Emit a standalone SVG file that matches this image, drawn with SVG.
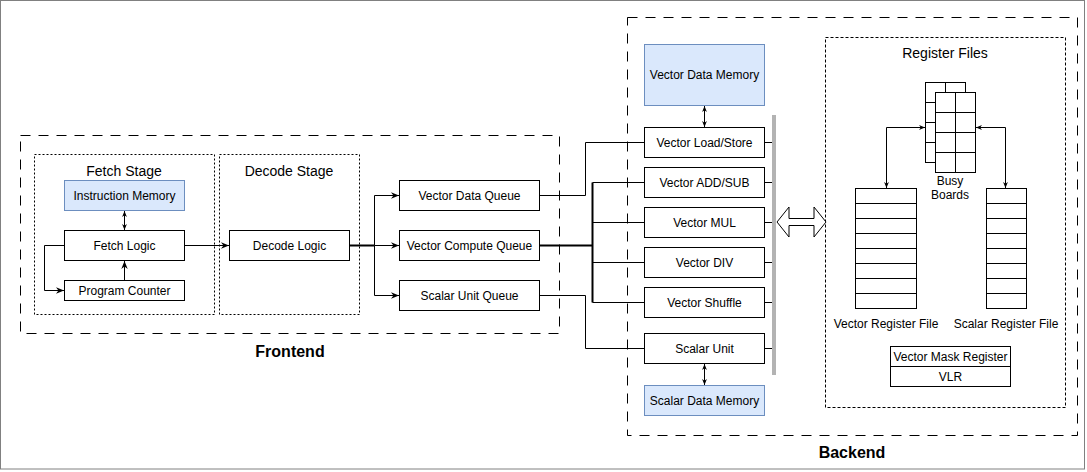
<svg xmlns="http://www.w3.org/2000/svg" width="1087" height="472" viewBox="0 0 1087 472">
<defs>
<style>
text{font-family:"Liberation Sans",Arial,sans-serif;fill:#000}
.t12{font-size:12px;text-anchor:middle}
.t14{font-size:14px;text-anchor:middle}
.tb{font-size:16px;font-weight:bold;text-anchor:middle}
.box{fill:#fff;stroke:#000;stroke-width:1}
.mem{fill:#dae8fc;stroke:#6c8ebf;stroke-width:1}
.grp{fill:none;stroke:#000;stroke-width:1;stroke-dasharray:10 8}
.stg{fill:none;stroke:#000;stroke-width:1;stroke-dasharray:2 2}
.rf{fill:none;stroke:#000;stroke-width:1;stroke-dasharray:3 2}
.c{fill:none;stroke:#000;stroke-width:1}
.ct{fill:none;stroke:#000;stroke-width:2}
.a{marker-end:url(#arr)}
.d{marker-start:url(#arrs);marker-end:url(#arrs)}
</style>
<marker id="arr" viewBox="0 0 10 10" refX="10" refY="5" markerWidth="8" markerHeight="8" orient="auto-start-reverse" markerUnits="userSpaceOnUse"><path d="M0,1 L10,5 L0,9 L3,5 z" fill="#000"/></marker>
<marker id="arrs" viewBox="0 0 10 10" refX="10" refY="5" markerWidth="6" markerHeight="6" orient="auto-start-reverse" markerUnits="userSpaceOnUse"><path d="M0,1 L10,5 L0,9 L3,5 z" fill="#000"/></marker>
</defs>
<rect x="0.5" y="0.5" width="1084" height="468.5" fill="#fff" stroke="#808080" stroke-width="1"/>

<g id="frontend">
<rect class="grp" x="20.5" y="135.5" width="539" height="198"/>
<text class="tb" x="290" y="357">Frontend</text>
</g>
<g id="fetch-stage">
<rect class="stg" x="34.5" y="154.5" width="180" height="160"/>
<text class="t14" x="124" y="176">Fetch Stage</text>
</g>
<g id="decode-stage">
<rect class="stg" x="219.5" y="154.5" width="140" height="160"/>
<text class="t14" x="289" y="176">Decode Stage</text>
</g>
<g id="instruction-memory">
<rect class="mem" x="64.5" y="180.5" width="120" height="30"/>
<text class="t12" x="124.5" y="199.5">Instruction Memory</text>
</g>
<g id="fetch-logic">
<rect class="box" x="64.5" y="230.5" width="120" height="30"/>
<text class="t12" x="124.5" y="249.5">Fetch Logic</text>
</g>
<g id="program-counter">
<rect class="box" x="64.5" y="280.5" width="120" height="20"/>
<text class="t12" x="124.5" y="294.5">Program Counter</text>
</g>
<g id="decode-logic">
<rect class="box" x="229.5" y="230.5" width="120" height="30"/>
<text class="t12" x="289.5" y="249.5">Decode Logic</text>
</g>
<g id="vector-data-queue">
<rect class="box" x="399.5" y="180.5" width="140" height="30"/>
<text class="t12" x="469.5" y="199.5">Vector Data Queue</text>
</g>
<g id="vector-compute-queue">
<rect class="box" x="399.5" y="230.5" width="140" height="30"/>
<text class="t12" x="469.5" y="249.5">Vector Compute Queue</text>
</g>
<g id="scalar-unit-queue">
<rect class="box" x="399.5" y="280.5" width="140" height="30"/>
<text class="t12" x="469.5" y="299.5">Scalar Unit Queue</text>
</g>

<g id="backend">
<rect class="grp" x="627.5" y="17.5" width="450" height="418"/>
<text class="tb" x="852" y="458">Backend</text>
</g>
<g id="vector-data-memory">
<rect class="mem" x="644.5" y="44.5" width="120" height="61"/>
<text class="t12" x="704.5" y="79">Vector Data Memory</text>
</g>
<g id="vector-load-store">
<rect class="box" x="644.5" y="127.5" width="120" height="30"/>
<text class="t12" x="704.5" y="146.5">Vector Load/Store</text>
</g>
<g id="vector-add-sub">
<rect class="box" x="644.5" y="167.5" width="120" height="30"/>
<text class="t12" x="704.5" y="186.5">Vector ADD/SUB</text>
</g>
<g id="vector-mul">
<rect class="box" x="644.5" y="207.5" width="120" height="30"/>
<text class="t12" x="704.5" y="226.5">Vector MUL</text>
</g>
<g id="vector-div">
<rect class="box" x="644.5" y="247.5" width="120" height="30"/>
<text class="t12" x="704.5" y="266.5">Vector DIV</text>
</g>
<g id="vector-shuffle">
<rect class="box" x="644.5" y="287.5" width="120" height="30"/>
<text class="t12" x="704.5" y="306.5">Vector Shuffle</text>
</g>
<g id="scalar-unit">
<rect class="box" x="644.5" y="333.5" width="120" height="30"/>
<text class="t12" x="704.5" y="352.5">Scalar Unit</text>
</g>
<g id="scalar-data-memory">
<rect class="mem" x="644.5" y="385.5" width="120" height="30"/>
<text class="t12" x="704.5" y="404.5">Scalar Data Memory</text>
</g>
<g id="bus">
<rect x="772" y="115" width="4" height="260" fill="#b3b3b3"/>
</g>

<g id="register-files">
<rect class="rf" x="825.5" y="37.5" width="240" height="370"/>
<text class="t14" x="945" y="58">Register Files</text>
</g>
<g id="busy-boards">
<rect class="box" x="925.5" y="82.5" width="40" height="80"/>
<path class="c" d="M945.5,82.5V92.5M925.5,102.5H935.5M925.5,122.5H935.5M925.5,142.5H935.5"/>
<rect class="box" x="935.5" y="92.5" width="40" height="80"/>
<path class="c" d="M955.5,92.5V172.5M935.5,112.5H975.5M935.5,132.5H975.5M935.5,152.5H975.5"/>
<text class="t12" x="950" y="185">Busy</text>
<text class="t12" x="950" y="199">Boards</text>
</g>
<g id="vector-register-file">
<rect class="box" x="855.5" y="188.5" width="61" height="120"/>
<path class="c" d="M855.5,203.5H916.5M855.5,218.5H916.5M855.5,233.5H916.5M855.5,248.5H916.5M855.5,263.5H916.5M855.5,278.5H916.5M855.5,293.5H916.5"/>
<text class="t12" x="886" y="328">Vector Register File</text>
</g>
<g id="scalar-register-file">
<rect class="box" x="986.5" y="188.5" width="40" height="120"/>
<path class="c" d="M986.5,203.5H1026.5M986.5,218.5H1026.5M986.5,233.5H1026.5M986.5,248.5H1026.5M986.5,263.5H1026.5M986.5,278.5H1026.5M986.5,293.5H1026.5"/>
<text class="t12" x="1006" y="328">Scalar Register File</text>
</g>
<g id="vector-mask-register">
<rect class="box" x="890.5" y="346.5" width="120" height="20"/>
<text class="t12" x="950.5" y="360.5">Vector Mask Register</text>
</g>
<g id="vlr">
<rect class="box" x="890.5" y="366.5" width="120" height="20"/>
<text class="t12" x="950.5" y="380.5">VLR</text>
</g>

<g id="connectors">
<path class="c d" d="M124.5,211V230"/>
<path class="c a" d="M124.5,280V261"/>
<path class="c a" d="M64.5,245.5H44.5V290.5H64"/>
<path class="c a" d="M184.5,245.5H229"/>
<path class="ct" d="M349.5,245.5H374.5"/>
<path class="c a" d="M374.5,245.5H399"/>
<path class="c a" d="M374.5,245.5V195.5H399"/>
<path class="c a" d="M374.5,245.5V295.5H399"/>
<path class="c" d="M539.5,195.5H585.5V142.5H644.5"/>
<path class="ct" d="M539.5,245.5H592.5"/>
<path class="ct" d="M592.5,182.5V302.5"/>
<path class="c" d="M592.5,182.5H644.5M592.5,222.5H644.5M592.5,262.5H644.5M592.5,302.5H644.5"/>
<path class="c" d="M539.5,295.5H585.5V348.5H644.5"/>
<path class="c d" d="M704.5,106V127"/>
<path class="c d" d="M704.5,364V385"/>
<path class="c" d="M764.5,142.5H772M764.5,182.5H772M764.5,222.5H772M764.5,262.5H772M764.5,302.5H772M764.5,348.5H772"/>
<polygon points="777,222 789,207 789,218.5 814,218.5 814,207 826,222 814,237 814,225.5 789,225.5 789,237" fill="#fff" stroke="#000" stroke-width="1"/>
<path class="c d" d="M925,127.5H886.5V188"/>
<path class="c d" d="M976,127.5H1005.5V188"/>
</g>
</svg>
